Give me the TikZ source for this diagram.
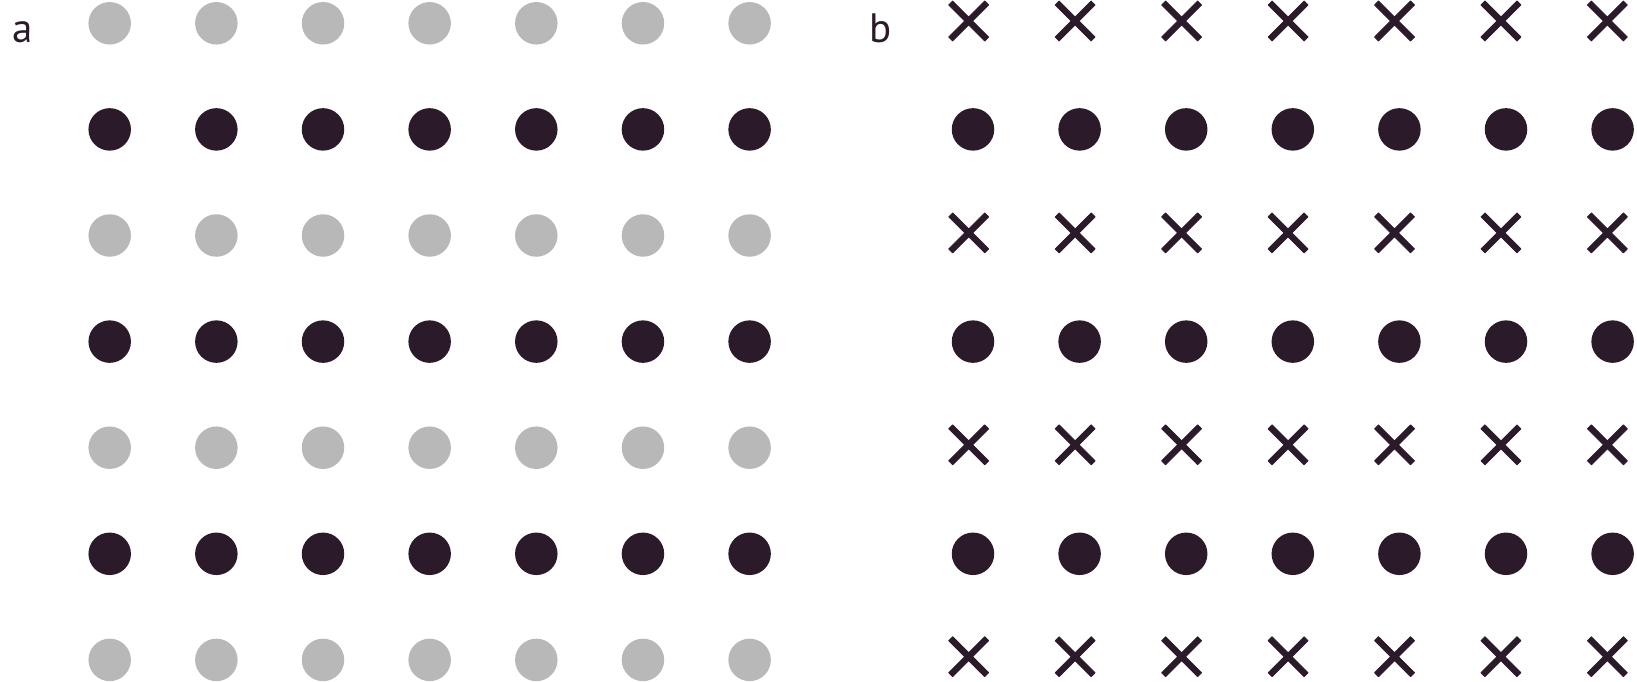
\documentclass[tikz,border=0pt]{standalone}
\usepackage{fontspec}
\setmainfont{PT Sans}
\definecolor{dotdark}{HTML}{2B1A29}
\definecolor{dotgray}{HTML}{B8B8B8}
\tikzset{
  darkdot/.style={circle, fill=dotdark, draw=none, minimum size=42.5pt, inner sep=0pt},
  graydot/.style={circle, fill=dotgray, draw=none, minimum size=42.5pt, inner sep=0pt},
  xfill/.style={fill=dotdark, draw=dotdark, line width=0.8pt, line join=round},
  panellabel/.style={anchor=base west, inner sep=0pt, text=dotdark, font=\fontsize{41}{41}\selectfont}
}
\def\xa{18}\def\xs{1.98}\def\xd{3.96}
\begin{document}
\begin{tikzpicture}[x=1pt,y=-1pt]
\useasboundingbox (0,0) rectangle (1637,682);
% panel labels
\node[panellabel] (la) at (12,43) {a};
\node[panellabel] (lb) at (869,43) {b};
% panel a
\foreach \c in {0,...,6}{
  \foreach \r in {0,...,3}{
    \node[graydot] (ag-\r-\c) at ({109.7+106.65*\c},{23.3+212.2*\r}) {};
  }
  \foreach \r in {0,...,2}{
    \node[darkdot] (ad-\r-\c) at ({109.7+106.65*\c},{129.4+212.2*\r}) {};
  }
}
% panel b
\foreach \c in {0,...,6}{
  \foreach \r in {0,...,3}{
    \coordinate (bx-\r-\c) at ({968.7+106.45*\c},{21+211.9*\r});
    \fill[xfill, shift={(bx-\r-\c)}]
      (0,-\xd) -- ({\xa-\xs},{-\xa-\xs}) -- ({\xa+\xs},{-\xa+\xs}) --
      (\xd,0) -- ({\xa+\xs},{\xa-\xs}) -- ({\xa-\xs},{\xa+\xs}) --
      (0,\xd) -- ({-\xa+\xs},{\xa+\xs}) -- ({-\xa-\xs},{\xa-\xs}) --
      (-\xd,0) -- ({-\xa-\xs},{-\xa+\xs}) -- ({-\xa+\xs},{-\xa-\xs}) -- cycle;
  }
  \foreach \r in {0,...,2}{
    \node[darkdot] (bd-\r-\c) at ({973+106.6*\c},{129.4+212.2*\r}) {};
  }
}
\end{tikzpicture}
\end{document}
